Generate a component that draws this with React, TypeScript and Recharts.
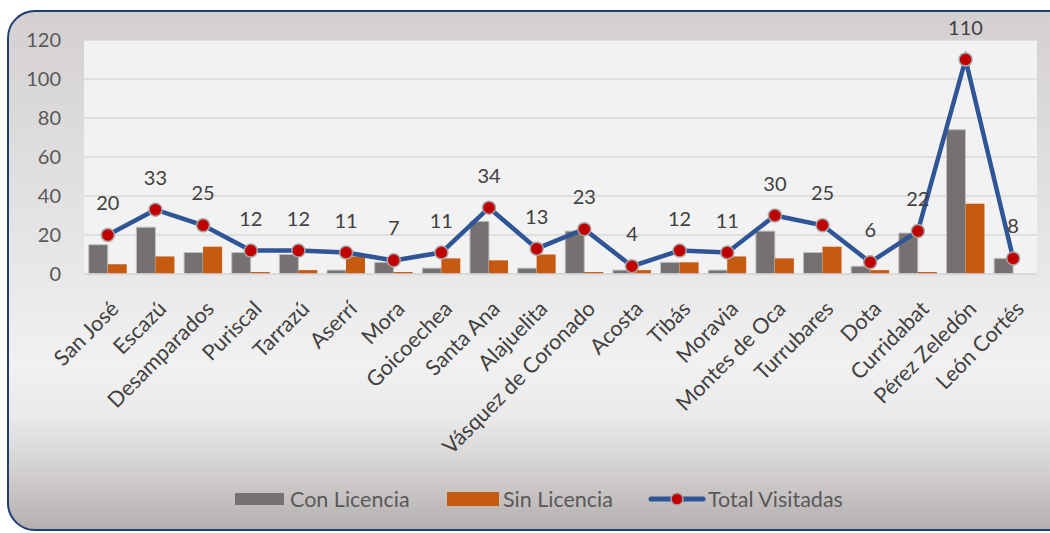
import React from "react";
import {
  ComposedChart,
  Bar,
  Line,
  XAxis,
  YAxis,
  CartesianGrid,
  LabelList,
} from "recharts";

const categories = [
  "San José", "Escazú", "Desamparados", "Puriscal", "Tarrazú", "Aserrí", "Mora",
  "Goicoechea", "Santa Ana", "Alajuelita", "Vásquez de Coronado", "Acosta", "Tibás",
  "Moravia", "Montes de Oca", "Turrubares", "Dota", "Curridabat", "Pérez Zeledón", "León Cortés",
];
const conLicencia = [15, 24, 11, 11, 10, 2, 6, 3, 27, 3, 22, 2, 6, 2, 22, 11, 4, 21, 74, 8];
const sinLicencia = [5, 9, 14, 1, 2, 9, 1, 8, 7, 10, 1, 2, 6, 9, 8, 14, 2, 1, 36, 0];
const totalVisitadas = [20, 33, 25, 12, 12, 11, 7, 11, 34, 13, 23, 4, 12, 11, 30, 25, 6, 22, 110, 8];
const yTicks = [0, 20, 40, 60, 80, 100, 120];

const data = categories.map((name, i) => ({
  name,
  con: conLicencia[i],
  sin: sinLicencia[i],
  total: totalVisitadas[i],
}));

const FONT = "Lato, 'Open Sans', sans-serif";

const XTick = (props: any) => {
  const { x, y, payload } = props;
  return (
    <g transform={`translate(${x + 8},${y + 24})`}>
      <text
        transform="rotate(-45)"
        textAnchor="end"
        dy={6}
        fontSize={21.5}
        fill="#404040"
        fontFamily={FONT}
      >
        {payload.value}
      </text>
    </g>
  );
};

const Dot = (props: any) => {
  const { cx, cy } = props;
  return <circle cx={cx} cy={cy} r={6.5} fill="#c00000" stroke="#a6a6a6" strokeWidth={1.5} />;
};

const legendText: React.CSSProperties = {
  position: "absolute",
  top: 0,
  fontFamily: FONT,
  fontSize: 21.5,
  color: "#595959",
  lineHeight: "26px",
  whiteSpace: "nowrap",
};

export default function App() {
  return (
    <div
      style={{
        position: "fixed",
        left: 0,
        top: 0,
        width: 1050,
        height: 533,
        overflow: "hidden",
        background: "#ffffff",
      }}
    >
      <div
        style={{
          position: "absolute",
          left: 7,
          top: 10,
          width: 1070,
          height: 521,
          boxSizing: "border-box",
          border: "2px solid #1f3d73",
          borderRadius: 28,
          background:
            "linear-gradient(to bottom, #d4d0d1 0%, #e2e0e0 35%, #f1f1f1 68%, #ebeaea 78%, #d7d4d4 87%, #b4b0af 100%)",
        }}
      />
      <div style={{ position: "absolute", left: 0, top: 0 }}>
        <ComposedChart
          width={1050}
          height={533}
          data={data}
          margin={{ top: 40, right: 13, left: 0, bottom: 0 }}
          barGap={0}
          barCategoryGap="10%"
        >
          <CartesianGrid
            vertical={false}
            stroke="#d9d9d9"
            strokeWidth={1.5}
            fill="#f2f2f2"
            fillOpacity={1}
          />
          <XAxis
            dataKey="name"
            height={259}
            interval={0}
            tick={<XTick />}
            tickLine={false}
            axisLine={{ stroke: "#d9d9d9", strokeWidth: 1.5 }}
          />
          <YAxis
            width={84}
            domain={[0, 120]}
            ticks={yTicks}
            tickLine={false}
            axisLine={false}
            tickMargin={17}
            tick={{ fontSize: 20, fill: "#595959", fontFamily: FONT }}
          />
          <Bar
            dataKey="con"
            name="Con Licencia"
            fill="#767171"
            stroke="#bfbfbf"
            strokeWidth={1}
            isAnimationActive={false}
          />
          <Bar
            dataKey="sin"
            name="Sin Licencia"
            fill="#c55a11"
            isAnimationActive={false}
          />
          <Line
            dataKey="total"
            name="Total Visitadas"
            stroke="#2f5597"
            strokeWidth={4.5}
            dot={<Dot />}
            activeDot={false}
            isAnimationActive={false}
          >
            <LabelList
              dataKey="total"
              position="top"
              offset={25}
              fontSize={20}
              fill="#404040"
              fontFamily={FONT}
            />
          </Line>
        </ComposedChart>
      </div>
      <div style={{ position: "absolute", top: 486, left: 0, width: 1050, height: 26 }}>
        <span style={{ position: "absolute", left: 235, top: 7, width: 49, height: 12, background: "#767171" }} />
        <span style={{ ...legendText, left: 290 }}>Con Licencia</span>
        <span style={{ position: "absolute", left: 447, top: 6, width: 52, height: 14, background: "#c55a11" }} />
        <span style={{ ...legendText, left: 503 }}>Sin Licencia</span>
        <svg width={58} height={16} style={{ position: "absolute", left: 648, top: 5 }}>
          <line x1={3} y1={8} x2={55} y2={8} stroke="#2f5597" strokeWidth={5} strokeLinecap="round" />
          <circle cx={29} cy={8} r={6} fill="#c00000" stroke="#a6a6a6" strokeWidth={1.5} />
        </svg>
        <span style={{ ...legendText, left: 708 }}>Total Visitadas</span>
      </div>
    </div>
  );
}
